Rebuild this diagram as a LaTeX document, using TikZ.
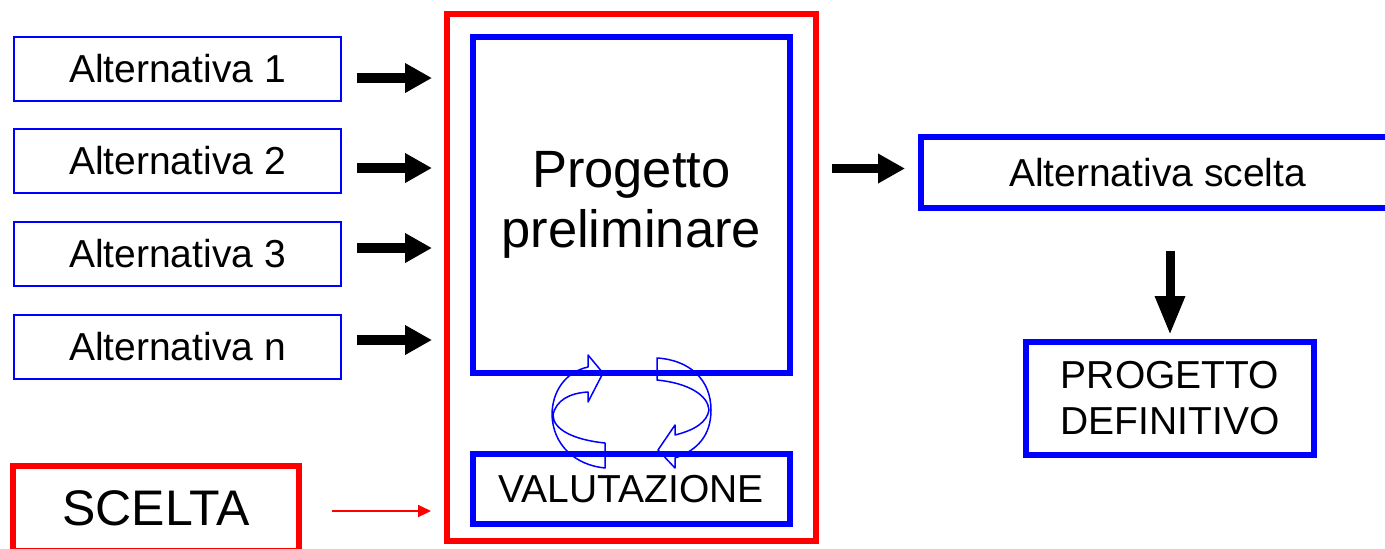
\documentclass[tikz,border=0pt]{standalone}
\usepackage{fontspec}
\setmainfont{Liberation Sans}
\definecolor{boxblue}{RGB}{0, 0, 255}
\definecolor{boxred}{RGB}{255, 0, 0}
\usetikzlibrary{arrows.meta}

\begin{document}
\begin{tikzpicture}[
        x=0.5pt, y=-0.5pt,
        altbox/.style={draw=boxblue, line width=1pt, minimum width=163.5pt, minimum height=32pt, inner sep=0pt, font=\fontsize{19.5}{23}\selectfont},
        thickblue/.style={draw=boxblue, line width=3pt, inner sep=0pt, align=center, font=\fontsize{19.5}{23}\selectfont},
        fatarrow/.style={draw=black, line width=4.75pt, -{Triangle[width=14pt, length=13.5pt]}},
        cyclearrow/.style={draw=boxblue, line width=0.75pt, line join=round}
      ]
        \useasboundingbox (0,0) rectangle (1385,548);
        \node[altbox] (alt1) at (177.5,69) {Alternativa 1};
        \node[altbox] (alt2) at (177.5,161) {Alternativa 2};
        \node[altbox] (alt3) at (177.5,254) {Alternativa 3};
        \node[altbox] (altn) at (177.5,347) {Alternativa n};
        \node[draw=boxred, line width=3pt, minimum width=184.5pt, minimum height=263.5pt] (outer) at (631,277.5) {};
        \node[thickblue, minimum width=158.25pt, minimum height=168pt, font=\fontsize{26.25}{30}\selectfont] (prelim) at (631.25,205) {Progetto\\preliminare};
        \node[thickblue, minimum width=158.25pt, minimum height=35.25pt] (valut) at (631.25,489) {VALUTAZIONE};
        \node[draw=boxred, line width=3pt, minimum width=143pt, minimum height=42.5pt, font=\fontsize{25}{30}\selectfont] (scelta) at (156,508.5) {SCELTA};
        \node[thickblue, minimum width=236.5pt, minimum height=35.5pt] (chosen) at (1157.5,172.5) {Alternativa scelta};
        \node[thickblue, minimum width=144pt, minimum height=56.5pt] (definitivo) at (1170,398.5) {PROGETTO\\DEFINITIVO};

        \draw[fatarrow, shorten <=7.5pt, shorten >=5.75pt] ([yshift=-4.5pt]alt1.east) -- ([yshift=-4.5pt]alt1.east -| outer.west);
        \draw[fatarrow, shorten <=7.5pt, shorten >=5.75pt] ([yshift=-3.5pt]alt2.east) -- ([yshift=-3.5pt]alt2.east -| outer.west);
        \draw[fatarrow, shorten <=7.5pt, shorten >=5.75pt] ([yshift=3pt]alt3.east) -- ([yshift=3pt]alt3.east -| outer.west);
        \draw[fatarrow, shorten <=7.5pt, shorten >=5.75pt] ([yshift=3.5pt]altn.east) -- ([yshift=3.5pt]altn.east -| outer.west);
        \draw[fatarrow, shorten <=6.75pt, shorten >=6.5pt] ([yshift=2pt]chosen.west -| outer.east) -- ([yshift=2pt]chosen.west);
        \draw[draw=black, line width=4.5pt, -{Triangle[width=14pt, length=19.5pt]}, shorten <=20pt, shorten >=2pt] (definitivo.north |- chosen.south) -- (definitivo.north);
        \draw[draw=boxred, line width=1pt, -{Triangle[width=6pt, length=6.5pt]}, shorten <=15pt, shorten >=6.25pt] ([yshift=-1.25pt]scelta.east) -- ([yshift=-1.25pt]scelta.east -| outer.west);

        % valutazione loop
        \draw[cyclearrow] (605,443) .. controls (575,440) and (553,430) .. (553,415) .. controls (556,400) and (570,393) .. (588,392) -- (588,402) -- (603,373) -- (588,355) -- (588,367) .. controls (565,372) and (552,392) .. (552,415) .. controls (553,445) and (575,465) .. (605,468) -- cycle;
        \draw[cyclearrow] (657,380) .. controls (688,383) and (708,395) .. (709,410) .. controls (707,422) and (695,430) .. (675,435) -- (675,425) -- (658,450) -- (675,468) -- (675,458) .. controls (698,450) and (711,435) .. (711,410) .. controls (711,380) and (690,360) .. (657,358) -- cycle;
      \end{tikzpicture}
\end{document}
